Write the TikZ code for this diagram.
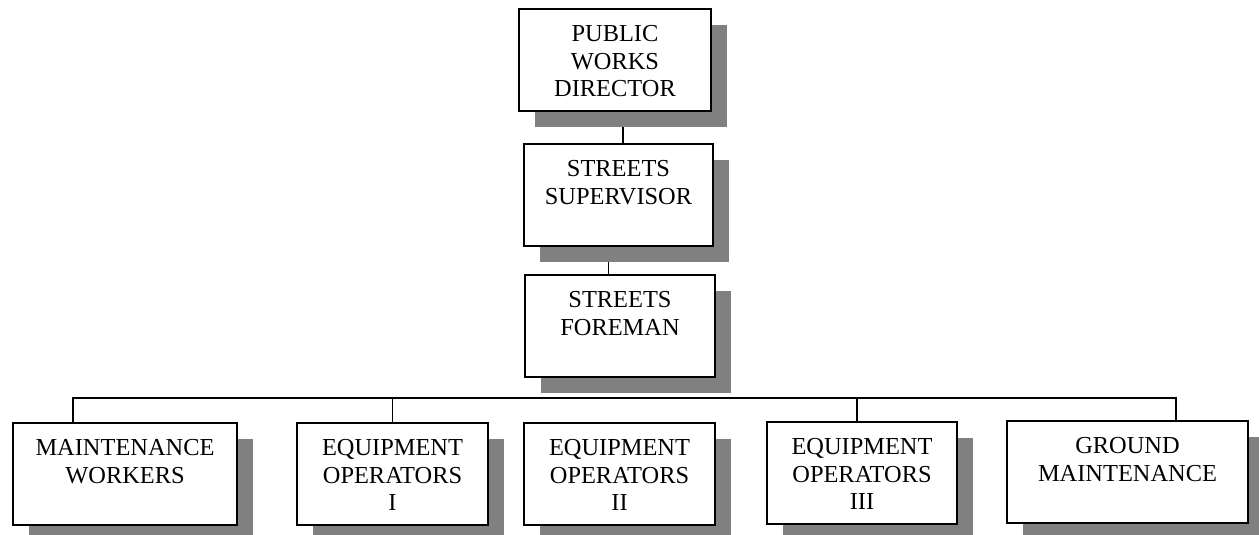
\documentclass[tikz,border=0pt]{standalone}
\usepackage{fontspec}
\setmainfont{Liberation Serif}
\usetikzlibrary{shadows}
\pgfdeclarelayer{back}
\pgfsetlayers{back,main}

\begin{document}
\begin{tikzpicture}[x=0.5pt,y=-0.5pt,
    post/.style={draw,line width=1pt,fill=white,inner sep=0pt,anchor=north west,
        minimum width=#1,minimum height=51pt,
        drop shadow={shadow xshift=8pt,shadow yshift=-8pt,fill=gray,opacity=1}},
    title/.style={anchor=north,yshift=-8.6pt,inner sep=0pt,align=center,
        font=\fontsize{12.2}{13.75}\selectfont},
    link/.style={line width=0.8pt}]
    \useasboundingbox (0,0) rectangle (1259,535);
    \node[post=96pt,label={[title]north:PUBLIC\\WORKS\\DIRECTOR}] (dir) at (518,8) {};
    \node[post=94.5pt,label={[title]north:STREETS\\SUPERVISOR}] (sup) at (523,143) {};
    \node[post=95pt,label={[title]north:STREETS\\FOREMAN}] (fore) at (524,274) {};
    \node[post=112pt,label={[title]north:MAINTENANCE\\WORKERS}] (maint) at (12,422) {};
    \node[post=95.5pt,label={[title]north:EQUIPMENT\\OPERATORS\\I}] (eqone) at (296,422) {};
    \node[post=95.5pt,label={[title]north:EQUIPMENT\\OPERATORS\\II}] (eqtwo) at (523,422) {};
    \node[post=95pt,label={[title]north:EQUIPMENT\\OPERATORS\\III}] (eqthree) at (766,421) {};
    \node[post=120.5pt,label={[title]north:GROUND\\MAINTENANCE}] (ground) at (1006,420) {};
    \begin{pgfonlayer}{back}
        \coordinate (busL) at (73,398);
        \coordinate (busR) at (1176,398);
        \draw[link] ([xshift=4pt]dir.south) -- ([xshift=4pt]dir.south |- sup.north);
        \draw[link] ([xshift=-5pt]sup.south) -- ([xshift=-5pt]sup.south |- fore.north);
        \draw[link] (busL |- maint.north) -- (busL) -- (busR) -- (busR |- ground.north);
        \draw[link] (eqone.north) -- (eqone.north |- busL);
        \draw[link] ([xshift=-2.5pt]eqthree.north) -- ([xshift=-2.5pt]eqthree.north |- busL);
    \end{pgfonlayer}
\end{tikzpicture}
\end{document}
